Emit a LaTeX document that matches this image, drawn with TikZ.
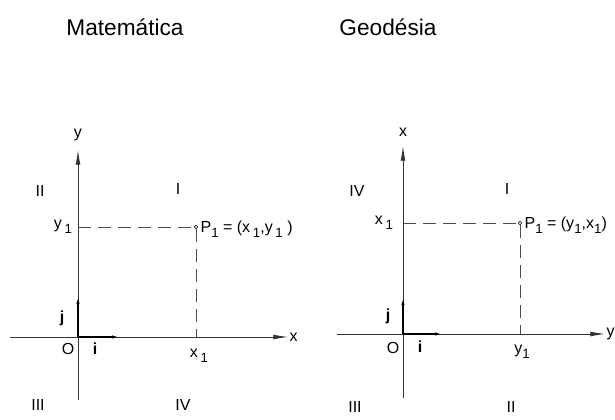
\documentclass[tikz,border=0pt]{standalone}
\usepackage{fontspec}
\setmainfont{Liberation Sans}
\usetikzlibrary{arrows.meta}

\newcommand{\sub}[1]{\raisebox{-0.55ex}{\fontsize{10}{12}\selectfont #1}}

\begin{document}
\begin{tikzpicture}[x=0.75pt, y=-0.75pt,
    axis/.style={-{Latex[length=11pt,width=3.6pt]}, draw=black!80, line width=0.6pt},
    vec/.style={-{Latex[length=6pt,width=2.4pt]}, line width=1pt},
    proj/.style={draw=black!70, line width=0.5pt, dash pattern=on 10pt off 5pt},
    point/.style={circle, draw, fill=white, inner sep=0.9pt, line width=0.4pt},
    lbl/.style={font=\fontsize{12}{14}\selectfont, inner sep=1pt},
    vlbl/.style={font=\fontsize{12}{14}\selectfont\bfseries, inner sep=1pt},
    title/.style={font=\fontsize{17}{20}\selectfont}
]
\useasboundingbox (0,0) rectangle (615,419);

% Titulos
\node[title] (tmat) at (125,27) {Matemática};
\node[title] (tgeo) at (388,27) {Geodésia};

% Sistema matematico
\coordinate (O1) at (78,337);
\coordinate (xs1) at (10,337);
\coordinate (xe1) at (288,337);
\coordinate (ys1) at (78,400);
\coordinate (ye1) at (78,150);
\node[point] (P1) at (196,227) {};

\draw[axis] (xs1) -- (xe1);
\draw[axis] (ys1) -- (ye1);
\draw[proj] (O1 |- P1) -- (P1);
\draw[proj] (P1) -- (P1 |- O1);
\draw[vec] (O1) -- (120,337) coordinate (i1);
\draw[vec] (O1) -- (78,296) coordinate (j1);

\node[lbl, anchor=west] (lx1) at (xe1) {x};
\node[lbl] (ly1) at (78,135) {y};
\node[lbl] (lo1) at (68,349) {O};
\node[vlbl] (li1) at (95,349) {i};
\node[vlbl] (lj1) at (62,318) {j};
\node[lbl] (lxp1) at (199,356) {x\,\sub{1}};
\node[lbl] (lyp1) at (63,227) {y\,\sub{1}};
\node[lbl, anchor=west] (lp1) at (199,229) {P\sub{1} = (x\,\sub{1},y\,\sub{1} )};

\node[lbl] (q2a) at (40,191) {II};
\node[lbl] (q1a) at (178,189) {I};
\node[lbl] (q3a) at (38,405) {III};
\node[lbl] (q4a) at (183,405) {IV};

% Sistema geodesico
\coordinate (O2) at (403,334);
\coordinate (xs2) at (337,334);
\coordinate (xe2) at (605,334);
\coordinate (ys2) at (403,398);
\coordinate (ye2) at (403,146);
\node[point] (P2) at (520,223) {};

\draw[axis] (xs2) -- (xe2);
\draw[axis] (ys2) -- (ye2);
\draw[proj] (O2 |- P2) -- (P2);
\draw[proj] (P2) -- (P2 |- O2);
\draw[vec] (O2) -- (443,334) coordinate (i2);
\draw[vec] (O2) -- (403,297) coordinate (j2);

\node[lbl, anchor=west] (ly2) at (xe2) {y};
\node[lbl] (lx2) at (403,132) {x};
\node[lbl] (lo2) at (393,348) {O};
\node[vlbl] (li2) at (420,347) {i};
\node[vlbl] (lj2) at (388,316) {j};
\node[lbl] (lyp2) at (522,352) {y\sub{1}};
\node[lbl] (lxp2) at (384,223) {x\,\sub{1}};
\node[lbl, anchor=west] (lp2) at (523,225) {P\sub{1} = (y\sub{1},x\sub{1})};

\node[lbl] (q4b) at (357,191) {IV};
\node[lbl] (q1b) at (507,189) {I};
\node[lbl] (q3b) at (355,407) {III};
\node[lbl] (q2b) at (511,407) {II};

\end{tikzpicture}
\end{document}
